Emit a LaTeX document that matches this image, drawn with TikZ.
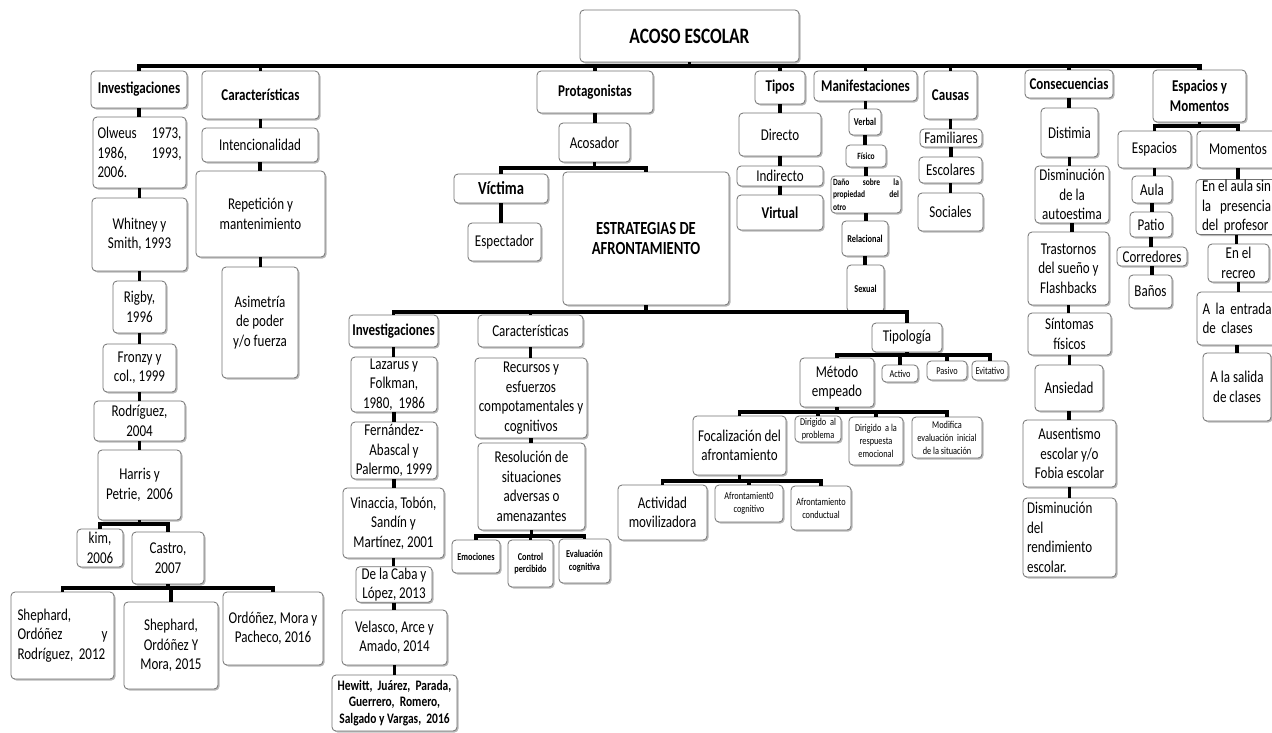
\documentclass[tikz,border=0pt]{standalone}
\usepackage{fontspec}
\setmainfont{Carlito}[FakeStretch=0.79]
\usetikzlibrary{shadows}
\newcommand\myfN{\fontsize{16.5}{19.5}\selectfont}
\newcommand\myfB{\fontsize{16.5}{19.5}\selectfont\bfseries}
\newcommand\myfT{\fontsize{22}{26}\selectfont\bfseries}
\newcommand\myfV{\fontsize{18.5}{20.5}\selectfont\bfseries}
\newcommand\myfH{\fontsize{14.5}{16.5}\selectfont\bfseries}
\newcommand\myfS{\fontsize{10.5}{13}\selectfont}
\newcommand\myfSB{\fontsize{10.5}{12.5}\selectfont\bfseries}
\newcommand\myfSBs{\fontsize{9.5}{12.5}\selectfont\bfseries}
\newcommand{\jl}[2]{\leavevmode\hbox to #1{#2}}
\newcommand{\bx}[7][]{\node[box,#1,minimum width={#5-#3},minimum height={#6-#4}] (#2) at ({(#3+#5)/2},{(#4+#6)/2}) {#7};}
\newcommand{\ch}[2]{\draw[conn] (#1.south) -- (#1.south |- #2.north);}
\tikzset{
  box/.style={draw=black!55, line width=0.8pt, rounded corners=4pt, fill=white, align=center,
    inner sep=1pt, font=\myfN,
    drop shadow={shadow xshift=1.5pt, shadow yshift=-1.5pt, fill=black!50, opacity=0.55}},
  conn/.style={line width=3.5pt, black},
  mainbar/.style={line width=4.4pt, black}
}
\begin{document}
\begin{tikzpicture}[x=1pt,y=-1pt]
\fill[white] (0,0) rectangle (1272,732);
\useasboundingbox (0,0) rectangle (1272,732);
\clip (0,0) rectangle (1272,732);

% ---------- top ----------
\bx[font=\myfT]{acoso}{580}{10}{799}{62}{ACOSO ESCOLAR}
\bx[font=\myfB]{inv1}{91}{71}{187}{108}{Investigaciones}
\bx[font=\myfB]{car1}{202}{71}{319}{119}{Características}
\bx[font=\myfB]{prot}{537}{71}{653}{113}{Protagonistas}
\bx[font=\myfB]{tipos}{755}{71}{805}{104}{Tipos}
\bx[font=\myfB]{manif}{814}{71}{917}{101}{Manifestaciones}
\bx[font=\myfB]{causas}{924}{71}{977}{119}{Causas}
\bx[font=\myfB]{cons}{1025}{70}{1113}{98}{Consecuencias}
\bx[font=\myfB]{espm}{1153}{70}{1246}{122}{Espacios y\\Momentos}

% ---------- Investigaciones ----------
\bx[text width=84pt, align=left]{olw}{93}{117}{186}{188}{\jl{84pt}{Olweus\hfill 1973,}\\\jl{84pt}{1986,\hfill 1993,}\\2006.}
\bx{whit}{92}{198}{187}{271}{Whitney y\\Smith, 1993}
\bx{rigby}{113}{281}{166}{333}{Rigby,\\1996}
\bx{fronzy}{103}{344}{176}{392}{Fronzy y\\col., 1999}
\bx{rodr}{94}{401}{185}{441}{Rodríguez,\\2004}
\bx{harris}{98}{450}{181}{520}{Harris y\\Petrie,~ 2006}
\bx{kim}{77}{529}{123}{567}{kim,\\2006}
\bx{castro}{132}{532}{204}{584}{Castro,\\2007}
\bx[text width=90pt, align=left]{sh12}{11}{592}{114}{679}{Shephard,\\\jl{90pt}{Ordóñez\hfill y}\\Rodríguez, 2012}
\bx{sh15}{124}{602}{218}{689}{Shephard,\\Ordóñez Y\\Mora, 2015}
\bx{ordo}{223}{592}{323}{665}{Ordóñez, Mora y\\Pacheco, 2016}

% ---------- Caracteristicas ----------
\bx{intenc}{202}{128}{318}{162}{Intencionalidad}
\bx{repet}{196}{171}{325}{257}{Repetición y\\mantenimiento}
\bx{asim}{222}{267}{298}{378}{Asimetría\\de poder\\y/o fuerza}

% ---------- Protagonistas ----------
\bx{acos}{559}{123}{630}{162}{Acosador}
\bx[font=\myfV]{vict}{454}{174}{548}{203}{Víctima}
\bx{espect}{468}{223}{541}{261}{Espectador}
\bx[font=\myfV]{estr}{563}{172}{729}{305}{ESTRATEGIAS DE\\AFRONTAMIENTO}

% ---------- Estrategias: Investigaciones ----------
\bx[font=\myfB]{inv2}{349}{315}{438}{347}{Investigaciones}
\bx{laz}{351}{357}{437}{412}{Lazarus y\\Folkman,\\1980,~ 1986}
\bx{fern}{351}{422}{437}{479}{Fernández-\\Abascal y\\Palermo, 1999}
\bx{vinac}{343}{488}{444}{558}{Vinaccia, Tobón,\\Sandín y\\Martínez, 2001}
\bx{caba}{356}{567}{432}{602}{De la Caba y\\López, 2013}
\bx{velas}{342}{610}{447}{665}{Velasco, Arce y\\Amado, 2014}
\bx[font=\myfH]{hewitt}{332}{675}{457}{731}{Hewitt,~ Juárez,~ Parada,\\Guerrero,~ Romero,\\Salgado y Vargas,~ 2016}

% ---------- Estrategias: Caracteristicas ----------
\bx{car2}{478}{315}{583}{347}{Características}
\bx{recur}{475}{358}{587}{438}{Recursos y\\esfuerzos\\compotamentales y\\cognitivos}
\bx{resol}{478}{443}{585}{530}{Resolución de\\situaciones\\adversas o\\amenazantes}
\bx[font=\myfSB]{emoc}{452}{540}{500}{573}{Emociones}
\bx[font=\myfSB]{contr}{508}{540}{553}{587}{Control\\percibido}
\bx[font=\myfSB]{evalc}{559}{539}{610}{583}{Evaluación\\cognitiva}

% ---------- Tipos ----------
\bx{direc}{739}{113}{821}{156}{Directo}
\bx{indir}{737}{166}{823}{186}{Indirecto}
\bx[font=\myfB]{virt}{737}{195}{823}{230}{Virtual}

% ---------- Manifestaciones ----------
\bx[font=\myfSB]{verbal}{849}{109}{881}{135}{Verbal}
\bx[font=\myfSBs]{fisico}{846}{145}{886}{167}{Físico}
\bx[font=\myfSBs, text width=66pt, align=left]{dano}{831}{176}{901}{213}{\jl{66pt}{Daño\hfill sobre\hfill la}\\\jl{66pt}{propiedad\hfill del}\\otro}
\bx[font=\myfSB]{relac}{842}{221}{888}{256}{Relacional}
\bx[font=\myfSB]{sexual}{847}{265}{884}{312}{Sexual}

% ---------- Causas ----------
\bx{famil}{920}{129}{982}{147}{Familiares}
\bx{escol}{919}{157}{982}{183}{Escolares}
\bx{socia}{918}{193}{983}{231}{Sociales}

% ---------- Consecuencias ----------
\bx{distim}{1041}{108}{1098}{157}{Distimia}
\bx{autoes}{1035}{166}{1109}{223}{Disminución\\de la\\autoestima}
\bx{trast}{1028}{232}{1109}{305}{Trastornos\\del sueño y\\Flashbacks}
\bx{sint}{1028}{313}{1111}{355}{Síntomas\\físicos}
\bx{ansied}{1035}{365}{1103}{411}{Ansiedad}
\bx{ausent}{1023}{420}{1116}{487}{Ausentismo\\escolar y/o\\Fobia escolar}
\bx[text width=85pt, align=left]{rendim}{1023}{498}{1116}{577}{Disminución\\del\\rendimiento\\escolar.}

% ---------- Espacios y Momentos ----------
\bx{espac}{1118}{131}{1191}{168}{Espacios}
\bx{momen}{1197}{131}{1279}{168}{Momentos}
\bx{aula}{1132}{176}{1172}{203}{Aula}
\bx{patio}{1130}{212}{1172}{237}{Patio}
\bx{corred}{1117}{247}{1187}{266}{Corredores}
\bx{banos}{1129}{275}{1172}{308}{Baños}
\bx[text width=69pt, align=left]{enaula}{1196}{180}{1277}{234}{\jl{69pt}{En\hfill el\hfill aula\hfill sin}\\\jl{69pt}{la\hfill presencia}\\del profesor}
\bx{recreo}{1208}{244}{1269}{282}{En el\\recreo}
\bx[text width=69pt, align=left]{entrada}{1197}{292}{1277}{345}{\jl{69pt}{A\hfill la\hfill entrada}\\de clases}
\bx{salida}{1203}{353}{1271}{421}{A la salida\\de clases}

% ---------- Tipologia ----------
\bx{tipol}{872}{323}{942}{352}{Tipología}
\bx{metodo}{800}{358}{874}{407}{Método\\empeado}
\bx[font=\myfS]{activo}{882}{365}{918}{382}{Activo}
\bx[font=\myfS]{pasivo}{927}{361}{967}{380}{Pasivo}
\bx[font=\myfS]{evitat}{972}{361}{1008}{380}{Evitativo}
\bx{focal}{693}{416}{786}{475}{Focalización del\\afrontamiento}
\bx[font=\myfS]{dirprob}{795}{416}{841}{442}{Dirigido~ al\\problema}
\bx[font=\myfS]{dirresp}{849}{417}{903}{465}{Dirigido~ a la\\respuesta\\emocional}
\bx[font=\myfS]{modif}{912}{417}{982}{458}{Modifica\\evaluación~ inicial\\de la situación}
\bx{activ}{618}{485}{707}{540}{Actividad\\movilizadora}
\bx[font=\myfS]{afcog}{715}{485}{783}{522}{Afrontamient0\\cognitivo}
\bx[font=\myfS]{afcond}{791}{486}{851}{530}{Afrontamiento\\conductual}

% ---------- connectors ----------
\coordinate (b0) at (0,66);
\draw[mainbar] (inv1.north) -- (inv1.north |- b0) -- (espm.north |- b0) -- (espm.north);
\foreach \n in {car1,prot,tipos,manif,causas,cons} \draw[conn] (\n.north) -- (\n.north |- b0);
\draw[conn] (acoso.south) -- (acoso.south |- b0);

\ch{inv1}{olw} \ch{olw}{whit} \ch{whit}{rigby} \ch{rigby}{fronzy} \ch{fronzy}{rodr} \ch{rodr}{harris}
\ch{car1}{intenc} \ch{intenc}{repet} \ch{repet}{asim}
\ch{prot}{acos}
\ch{tipos}{direc} \ch{direc}{indir} \ch{indir}{virt}
\ch{manif}{verbal} \ch{verbal}{fisico} \ch{fisico}{dano} \ch{dano}{relac} \ch{relac}{sexual}
\ch{causas}{famil} \ch{famil}{escol} \ch{escol}{socia}
\ch{cons}{distim} \ch{distim}{autoes} \ch{autoes}{trast} \ch{trast}{sint} \ch{sint}{ansied} \ch{ansied}{ausent} \ch{ausent}{rendim}
\ch{espac}{aula} \ch{aula}{patio} \ch{patio}{corred} \ch{corred}{banos}
\ch{momen}{enaula} \ch{enaula}{recreo} \ch{recreo}{entrada} \ch{entrada}{salida}
\ch{inv2}{laz} \ch{laz}{fern} \ch{fern}{vinac} \ch{vinac}{caba} \ch{caba}{velas} \ch{velas}{hewitt}
\ch{car2}{recur} \ch{recur}{resol}
\ch{vict}{espect}

% Harris branch
\coordinate (bh) at (0,524);
\draw[conn] (harris.south) -- (harris.south |- bh);
\draw[conn] (kim.north) -- (kim.north |- bh) -- (castro.north |- bh) -- (castro.north);
% Castro branch
\coordinate (bc) at (0,588);
\draw[conn] (castro.south) -- (castro.south |- bc);
\draw[conn] (sh12.north) -- (sh12.north |- bc) -- (ordo.north |- bc) -- (ordo.north);
\draw[conn] (sh15.north) -- (sh15.north |- bc);
% Acosador branch
\coordinate (ba) at (0,168);
\draw[conn] (acos.south) -- (acos.south |- ba);
\draw[conn] (vict.north) -- (vict.north |- ba) -- (estr.north |- ba) -- (estr.north);
% Estrategias branch
\coordinate (be) at (0,312);
\draw[conn] (estr.south) -- (estr.south |- be);
\draw[conn] (inv2.north) -- (inv2.north |- be) -- (tipol.north |- be) -- (tipol.north);
\draw[conn] (car2.north) -- (car2.north |- be);
% Resolucion branch
\coordinate (br) at (0,536);
\draw[conn] (resol.south) -- (resol.south |- br);
\draw[conn] (emoc.north) -- (emoc.north |- br) -- (evalc.north |- br) -- (evalc.north);
\draw[conn] (contr.north) -- (contr.north |- br);
% Espacios y Momentos branch
\coordinate (bm) at (0,126);
\draw[conn] (espm.south) -- (espm.south |- bm);
\draw[conn] (espac.north) -- (espac.north |- bm) -- (momen.north |- bm) -- (momen.north);
% Tipologia branch
\coordinate (bt) at (0,355);
\draw[conn] (tipol.south) -- (tipol.south |- bt);
\draw[conn] (metodo.north) -- (metodo.north |- bt) -- (evitat.north |- bt) -- (evitat.north);
\draw[conn] (activo.north) -- (activo.north |- bt);
\draw[conn] (pasivo.north) -- (pasivo.north |- bt);
% Metodo branch
\coordinate (bme) at (0,412);
\draw[conn] (metodo.south) -- (metodo.south |- bme);
\draw[conn] (focal.north) -- (focal.north |- bme) -- (modif.north |- bme) -- (modif.north);
\draw[conn] (dirprob.north) -- (dirprob.north |- bme);
\draw[conn] (dirresp.north) -- (dirresp.north |- bme);
% Focalizacion branch
\coordinate (bf) at (0,481);
\draw[conn] (focal.south) -- (focal.south |- bf);
\draw[conn] (activ.north) -- (activ.north |- bf) -- (afcond.north |- bf) -- (afcond.north);
\draw[conn] (afcog.north) -- (afcog.north |- bf);
\end{tikzpicture}
\end{document}
